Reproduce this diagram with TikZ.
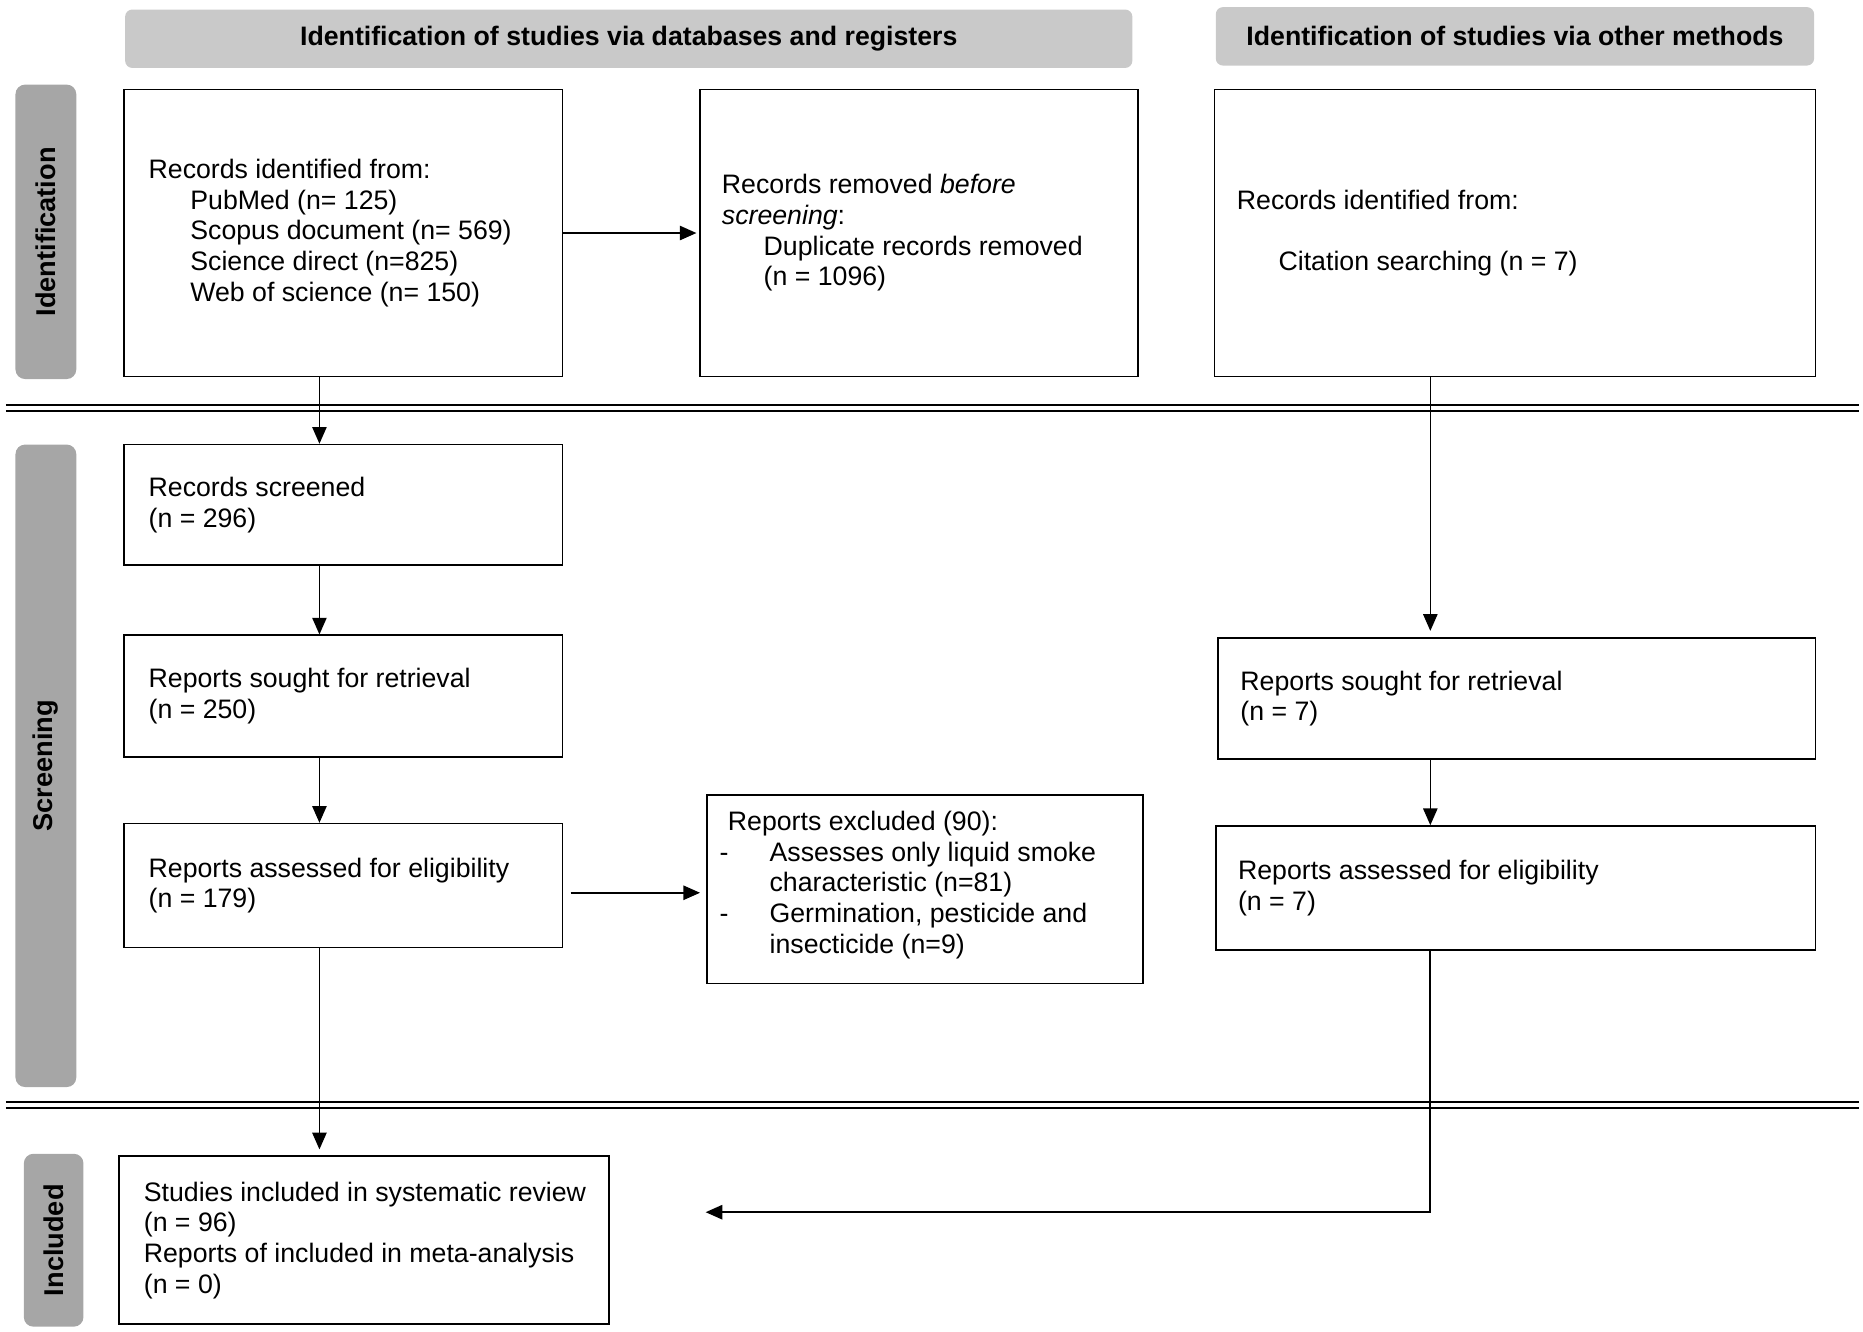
\documentclass[tikz,border=0pt]{standalone}
\usepackage{fontspec}
\setmainfont{Liberation Sans}
\usetikzlibrary{arrows.meta}
\definecolor{hdrgray}{RGB}{201,201,201}
\definecolor{sidegray}{RGB}{166,166,166}
\begin{document}
\begin{tikzpicture}[x=0.5pt,y=-0.5pt,
  font=\fontsize{11.2}{12.85}\selectfont,
  box/.style={draw, line width=0.7pt, inner sep=0pt, anchor=center},
  txt/.style={align=left, inner sep=0pt, anchor=west},
  hdr/.style={fill=hdrgray, rounded corners=3pt, inner sep=0pt, minimum height=24.5pt,
    font=\fontsize{11.2}{12.85}\selectfont\bfseries},
  side/.style={fill=sidegray, rounded corners=4pt, inner sep=0pt, rotate=90,
    font=\fontsize{11.4}{13}\selectfont\bfseries},
  arr/.style={-{Triangle[length=7pt,width=6pt]}, line width=0.6pt},
  harr/.style={-{Triangle[length=7pt,width=6pt]}, line width=0.8pt},
  sep/.style={line width=0.7pt}]
\useasboundingbox (0,0) rectangle (1563,1117);

% separators
\draw[sep] (5,340) -- (1560,340);
\draw[sep] (5,345) -- (1560,345);
\draw[sep] (5,924.5) -- (1560,924.5);
\draw[sep] (5,929.5) -- (1560,929.5);

% headers
\node[hdr, minimum width=422.5pt] (h1) at (527.5,32.5) {Identification of studies via databases and registers};
\node[hdr, minimum width=251pt] (h2) at (1271,30.5) {Identification of studies via other methods};

% side labels
\node[side, minimum width=123.5pt, minimum height=25.5pt] (s1) at (38.5,194.5) {Identification};
\node[side, minimum width=269.5pt, minimum height=25.5pt] (s2) at (38.5,642.5) {Screening};
\node[side, minimum width=72.5pt, minimum height=25pt] (s3) at (45,1040.5) {Included};

% boxes
\node[box, minimum width=184pt, minimum height=120.5pt] (b1) at (288,195.5) {};
\node[box, minimum width=184pt, minimum height=120.5pt] (b2) at (771,195.5) {};
\node[box, minimum width=252pt, minimum height=120.5pt] (b3) at (1271,195.5) {};
\node[box, minimum width=184pt, minimum height=50.5pt] (b4) at (288,423.5) {};
\node[box, minimum width=184pt, minimum height=51pt] (b5) at (288,584) {};
\node[box, minimum width=184pt, minimum height=52pt] (b6) at (288,743) {};
\node[box, minimum width=183pt, minimum height=79pt] (b7) at (776,746) {};
\node[box, minimum width=250.5pt, minimum height=51pt] (b8) at (1272.5,586) {};
\node[box, minimum width=251.5pt, minimum height=52pt] (b9) at (1271.5,745) {};
\node[box, minimum width=205.5pt, minimum height=70.5pt] (b10) at (305.5,1040.5) {};

% texts
\node[txt] (t1) at ([xshift=10.5pt]b1.west) {Records identified from:\\
  \hspace*{17.5pt}PubMed (n= 125)\\
  \hspace*{17.5pt}Scopus document (n= 569)\\
  \hspace*{17.5pt}Science direct (n=825)\\
  \hspace*{17.5pt}Web of science (n= 150)};
\node[txt] (t2) at ([xshift=9.5pt]b2.west) {Records removed \emph{before}\\
  \emph{screening}:\\
  \hspace*{17.5pt}Duplicate records removed\\
  \hspace*{17.5pt}(n = 1096)};
\node[txt] (t3) at ([xshift=9.5pt]b3.west) {Records identified from:\\[12.85pt]
  \hspace*{17.5pt}Citation searching (n = 7)};
\node[txt] (t4) at ([xshift=10.5pt]b4.west) {Records screened\\(n = 296)};
\node[txt] (t5) at ([xshift=10.5pt]b5.west) {Reports sought for retrieval\\(n = 250)};
\node[txt] (t6) at ([xshift=10.5pt]b6.west) {Reports assessed for eligibility\\(n = 179)};
\node[txt] (t7) at ([xshift=5.5pt,yshift=1.75pt]b7.west) {\hspace*{3.5pt}Reports excluded (90):\\
  \makebox[21pt][l]{-}Assesses only liquid smoke\\
  \hspace*{21pt}characteristic (n=81)\\
  \makebox[21pt][l]{-}Germination, pesticide and\\
  \hspace*{21pt}insecticide (n=9)};
\node[txt] (t8) at ([xshift=9.5pt]b8.west) {Reports sought for retrieval\\(n = 7)};
\node[txt] (t9) at ([xshift=9.5pt]b9.west) {Reports assessed for eligibility\\(n = 7)};
\node[txt] (t10) at ([xshift=10.5pt]b10.west) {Studies included in systematic review\\
  (n = 96)\\
  Reports of included in meta-analysis\\
  (n = 0)};

% connectors
\coordinate (cl) at (268,0);
\coordinate (cr) at (1200,0);
\coordinate (ry) at (0,749);
\coordinate (inc) at (592,1017);
\draw[harr, shorten >=1pt] (b1.east) -- (b2.west);
\draw[arr] (cl |- b1.south) -- (cl |- b4.north);
\draw[arr] (cl |- b4.south) -- (cl |- b5.north);
\draw[arr] (cl |- b5.south) -- (cl |- b6.north);
\draw[harr, shorten <=3pt, shorten >=2.5pt] (b6.east |- ry) -- (b7.west |- ry);
\draw[arr, shorten >=2.5pt] (cr |- b3.south) -- (cr |- b8.north);
\draw[arr] (cr |- b8.south) -- (cr |- b9.north);
\draw[arr, shorten >=2.5pt] (cl |- b6.south) -- (cl |- b10.north);
\draw[harr] (cr |- b9.south) |- (inc);
\end{tikzpicture}
\end{document}
